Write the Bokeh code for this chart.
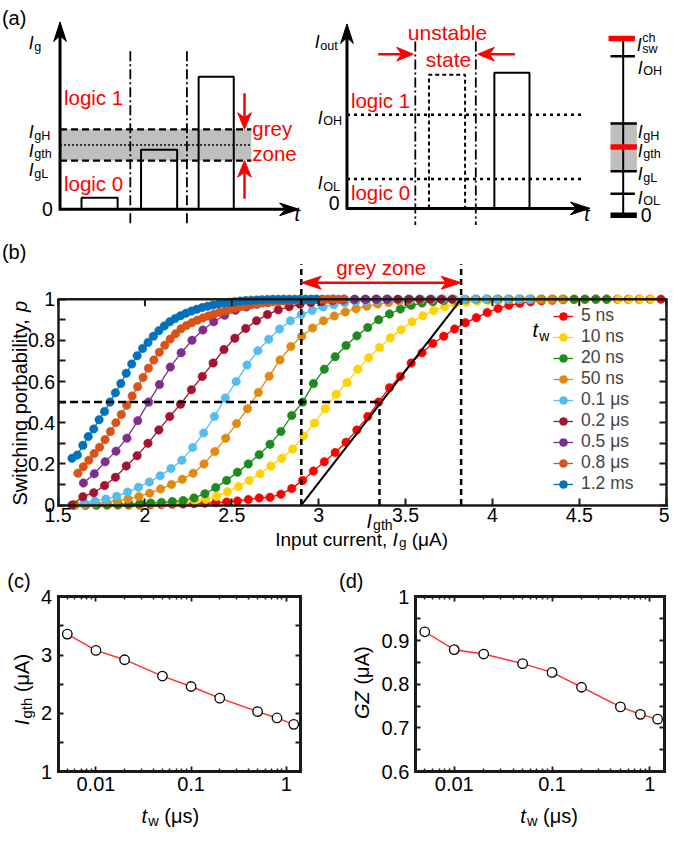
import math
import numpy as np
from bokeh.plotting import figure
from bokeh.models import Range1d, LinearAxis, LogAxis, FixedTicker, Label, Legend, LegendItem
from bokeh.layouts import column, row
from bokeh.embed import file_html
from bokeh.resources import INLINE
from bokeh.core.properties import value

# ---------------------------------------------------------------- data
# panel (b): switching probability p versus input current Ig (uA)
TW_LABELS = ["5 ns", "10 ns", "20 ns", "50 ns", "0.1 μs", "0.2 μs", "0.5 μs", "0.8 μs", "1.2 ms"]
COLORS = ["#FF0000", "#FFD200", "#1D8A1D", "#E08A12", "#55BDEE", "#A2142F", "#7E2F8E", "#D95319", "#0072BD"]
IG_START = [1.595, 1.60, 1.595, 1.59, 1.65, 1.58, 1.646, 1.614, 1.58]
IG_STEP = [0.0625, 0.0625, 0.0625, 0.0625, 0.0625, 0.0625, 0.0625, 0.03125, 0.03125]

p_5ns = [0, 0, 0, 0, 0, 0, 0, 0.002, 0.003, 0.004,
         0.005, 0.007, 0.009, 0.012, 0.015, 0.02, 0.027, 0.035, 0.038, 0.053,
         0.08, 0.12, 0.165, 0.21, 0.255, 0.305, 0.365, 0.43, 0.5, 0.57,
         0.625, 0.69, 0.74, 0.785, 0.82, 0.855, 0.885, 0.91, 0.935, 0.955,
         0.97, 0.98, 0.987, 0.992, 0.995, 0.997, 0.998, 0.999, 1, 1,
         1, 1, 1, 1, 1]
p_10ns = [0, 0, 0, 0.001, 0.002, 0.003, 0.004, 0.006, 0.008, 0.011,
          0.015, 0.02, 0.028, 0.042, 0.065, 0.09, 0.12, 0.152, 0.19, 0.228,
          0.272, 0.335, 0.398, 0.468, 0.538, 0.595, 0.66, 0.715, 0.765, 0.812,
          0.852, 0.89, 0.92, 0.945, 0.963, 0.976, 0.985, 0.99, 0.994, 0.997,
          0.998, 1, 1, 1, 1, 1, 1, 1, 1, 1,
          1, 1, 1, 1]
p_20ns = [0, 0, 0, 0.002, 0.003, 0.005, 0.007, 0.01, 0.013, 0.017,
          0.022, 0.035, 0.055, 0.085, 0.12, 0.16, 0.2, 0.245, 0.295, 0.357,
          0.435, 0.5, 0.59, 0.66, 0.72, 0.775, 0.822, 0.862, 0.9, 0.928,
          0.952, 0.97, 0.981, 0.988, 0.993, 0.996, 0.998, 1, 1, 1,
          1, 1, 1, 1, 1, 1, 1, 1, 1, 1]
p_50ns = [0, 0.003, 0.008, 0.014, 0.021, 0.03, 0.042, 0.058, 0.078, 0.1,
          0.125, 0.155, 0.2, 0.26, 0.325, 0.396, 0.468, 0.547, 0.626, 0.705,
          0.77, 0.82, 0.86, 0.895, 0.918, 0.938, 0.954, 0.966, 0.976, 0.984,
          0.99, 0.994, 0.997, 0.998, 1, 1, 1, 1, 1, 1,
          1, 1, 1, 1, 1, 1]
p_100ns = [0.012, 0.02, 0.03, 0.043, 0.063, 0.087, 0.112, 0.142, 0.178, 0.218,
           0.28, 0.35, 0.43, 0.52, 0.6, 0.68, 0.75, 0.805, 0.855, 0.895,
           0.925, 0.945, 0.962, 0.973, 0.982, 0.988, 0.992, 0.995, 0.997, 0.998,
           1, 1, 1, 1, 1, 1, 1, 1, 1, 1,
           1, 1]
p_200ns = [0, 0.041, 0.06, 0.095, 0.135, 0.19, 0.24, 0.3, 0.365, 0.43,
           0.49, 0.56, 0.625, 0.69, 0.755, 0.81, 0.858, 0.895, 0.925, 0.948,
           0.963, 0.975, 0.983, 0.989, 0.993, 0.996, 0.998, 0.999, 1, 1,
           1, 1, 1, 1, 1, 1]
p_500ns = [0.107, 0.152, 0.21, 0.262, 0.325, 0.41, 0.5, 0.585, 0.67, 0.74,
           0.8, 0.85, 0.89, 0.922, 0.946, 0.962, 0.975, 0.984, 0.99, 0.994,
           0.996, 0.998, 0.999, 1, 1, 1, 1, 1, 1]
p_800ns = [0.155, 0.186, 0.218, 0.25, 0.281, 0.318, 0.357, 0.40, 0.44, 0.485,
           0.53, 0.575, 0.62, 0.665, 0.705, 0.742, 0.776, 0.806, 0.832, 0.856,
           0.872, 0.886, 0.898, 0.909, 0.918, 0.927, 0.935, 0.943, 0.95, 0.957,
           0.963, 0.968, 0.973, 0.977, 0.981, 0.984, 0.987, 0.989, 0.991, 0.993,
           0.995, 0.996, 0.997, 0.998, 0.999, 0.999, 1, 1, 1, 1]
p_1200us = [0.227, 0.243, 0.29, 0.333, 0.37, 0.415, 0.455, 0.5, 0.545, 0.59,
            0.64, 0.685, 0.725, 0.76, 0.79, 0.82, 0.847, 0.87, 0.89, 0.906,
            0.92, 0.932, 0.942, 0.951, 0.959, 0.966, 0.972, 0.977, 0.981, 0.985,
            0.988, 0.991, 0.993, 0.995, 0.996, 0.997, 0.998, 0.999, 0.999, 1,
            1, 1, 1, 1, 1, 1]
P_SERIES = [p_5ns, p_10ns, p_20ns, p_50ns, p_100ns, p_200ns, p_500ns, p_800ns, p_1200us]

IG_L, IG_TH, IG_H = 2.9, 3.35, 3.82   # grey-zone limits and threshold (5 ns curve)

# panels (c) and (d)
tw_us = [0.005, 0.01, 0.02, 0.05, 0.1, 0.2, 0.5, 0.8, 1.2]
igth_uA = [3.36, 3.08, 2.92, 2.64, 2.46, 2.26, 2.03, 1.92, 1.81]
gz_uA = [0.92, 0.879, 0.869, 0.847, 0.827, 0.793, 0.748, 0.731, 0.72]

# tick values / labels
B_XTICKS = [1.5, 2, 2.5, 3, 3.5, 4, 4.5, 5]
B_XLABELS = ["1.5", "2", "2.5", "3", "3.5", "4", "4.5", "5"]
B_YTICKS = [0, 0.1, 0.2, 0.3, 0.4, 0.5, 0.6, 0.7, 0.8, 0.9, 1]
B_YLABELS = ["0", "", "0.2", "", "0.4", "", "0.6", "", "0.8", "", "1"]
C_YTICKS = [1, 1.5, 2, 2.5, 3, 3.5, 4]
C_YLABELS = ["1", "", "2", "", "3", "", "4"]
D_YTICKS = [0.6, 0.65, 0.7, 0.75, 0.8, 0.85, 0.9, 0.95, 1]
D_YLABELS = ["0.6", "", "0.7", "", "0.8", "", "0.9", "", "1"]
LOG_MAJOR = [0.01, 0.1, 1]
LOG_LABELS = ["0.01", "0.1", "1"]
LOG_MINOR = [0.005, 0.006, 0.007, 0.008, 0.009, 0.02, 0.03, 0.04, 0.05, 0.06, 0.07, 0.08, 0.09,
             0.2, 0.3, 0.4, 0.5, 0.6, 0.7, 0.8, 0.9]

# ---------------------------------------------------------------- helpers
FONT = "Liberation Sans"
RED = "#FF0000"
INK = "#1a1a1a"
SC = 0.976


def S(v):
    return v * SC


CW = {' ': .278, '(': .333, ')': .333, ',': .278, '.': .278, 'A': .667, 'G': .778, 'Z': .611,
      'H': .722, 'I': .278, 'L': .556, 'O': .778, 'S': .667, 'a': .556, 'b': .556, 'c': .5,
      'e': .556, 'g': .556, 'h': .556, 'i': .222, 'l': .222, 'n': .556, 'o': .556, 'p': .556,
      'r': .333, 's': .5, 't': .278, 'u': .556, 'w': .722, 'y': .5, 'μ': .576}


def tw(text, size):
    return sum(CW.get(c, .556) for c in text) * size


def no_align(p):
    try:
        p.frame_align = False
    except Exception:
        pass


def flabel(fig, x, y, pieces, angle=0.0, align="left"):
    """pieces: (text, size, style, shift_down); screen px from the figure's bottom-left"""
    adv = [tw(t, s) + (0.06 * s if st == "italic" else 0) for t, s, st, sh in pieces]
    pos = -sum(adv) / 2 if align == "center" else 0.0
    ca, sa = math.cos(angle), math.sin(angle)
    for (t, s, st, sh), a in zip(pieces, adv):
        lead = len(t) - len(t.lstrip(" "))
        p0 = pos + tw(" " * lead, s)
        fig.add_layout(Label(x=x + p0 * ca + sh * sa, y=y + p0 * sa - sh * ca,
                             x_units="screen", y_units="screen", text=t.strip(" "), angle=angle,
                             text_font=FONT, text_font_size=f"{s:.1f}px", text_font_style=st,
                             text_color="black", text_align="left", text_baseline="alphabetic"))
        pos += a


def arrow(fig, x0, y0, x1, y1, kx=1.0, ky=1.0, color="black", width=2.0, L=18, W=12, N=5):
    X0, Y0, X1, Y1 = x0 * kx, y0 * ky, x1 * kx, y1 * ky
    d = math.hypot(X1 - X0, Y1 - Y0)
    ux, uy = (X1 - X0) / d, (Y1 - Y0) / d
    px, py = -uy, ux
    bx, by = X1 - ux * L, Y1 - uy * L
    nx, ny = X1 - ux * (L - N), Y1 - uy * (L - N)
    pts = [(X1, Y1), (bx + px * W / 2, by + py * W / 2), (nx, ny), (bx - px * W / 2, by - py * W / 2)]
    fig.line([x0, nx / kx], [y0, ny / ky], line_color=color, line_width=width)
    fig.patch([q[0] / kx for q in pts], [q[1] / ky for q in pts], fill_color=color,
              line_color=color, line_width=1)


def style_axis(ax, ticks, labels=None, minor=None, show=True, fs="20px", standoff=5,
               tick_in=5, lw=3.0, tick_w=1.8):
    ax.ticker = FixedTicker(ticks=ticks, minor_ticks=minor or [])
    if labels is not None:
        ax.major_label_overrides = dict(zip(ticks, labels))
    else:
        ax.major_label_overrides = {t: "" for t in ticks}
    ax.axis_line_color = INK
    ax.axis_line_width = lw
    ax.axis_line_cap = "square"
    ax.major_tick_in, ax.major_tick_out = tick_in, 0
    ax.minor_tick_in, ax.minor_tick_out = 3, 0
    ax.major_tick_line_width = tick_w
    ax.minor_tick_line_width = 1.5
    ax.major_tick_line_color = INK
    ax.minor_tick_line_color = INK if minor else None
    ax.major_label_text_font = FONT
    ax.major_label_text_font_size = fs
    ax.major_label_standoff = standoff
    ax.major_label_text_color = "black" if show else None


# ---------------------------------------------------------------- panel (a): schematic
A_H = 225
pa = figure(width=669, height=A_H, x_range=Range1d(0, 669 / SC), y_range=Range1d(A_H / SC, 0),
            x_axis_type=None, y_axis_type=None, output_backend="svg", toolbar_location=None,
            min_border=0)
pa.outline_line_color = None
no_align(pa)


def atext(x, y, t, size, color="black", style="normal", align="left", baseline="alphabetic"):
    pa.text(x=[x], y=[y], text=[t], text_font=value(FONT), text_font_size=value(f"{S(size):.1f}px"),
            text_color=color, text_font_style=style, text_align=align, text_baseline=baseline)


def alabel(x, y, sub, size=18, sup=None):
    atext(x, y, "I", size, style="italic")
    sx = x + 0.31 * size
    atext(sx, y + 0.2 * size, sub, size * 0.72)
    if sup:
        atext(sx, y - 0.42 * size, sup, size * 0.72)


def seg(xs, ys, color="black", width=2.0, dash="solid"):
    pa.line(xs, ys, line_color=color, line_width=width, line_dash=dash)


# left: input current
pa.quad(left=61, right=257, top=132, bottom=164, fill_color="#BFBFBF", line_color=None)
seg([61, 257], [132, 132], width=2.2, dash="7 4")
seg([61, 257], [164, 164], width=2.2, dash="7 4")
seg([61, 257], [148, 148], width=1.4, dash="2 2")
for xv in (133, 191):
    seg([xv, xv], [52, 231], width=1.8, dash="10 3 2 3")
seg([83, 83, 120, 120], [214, 202, 202, 214])
seg([144, 144, 181, 181], [214, 153, 153, 214])
seg([203, 203, 239, 239], [214, 78, 78, 214])
arrow(pa, 61, 215, 61, 22, width=3, L=20, W=13, N=6)
arrow(pa, 60, 214, 306, 214, width=3, L=20, W=13, N=6)
arrow(pa, 250, 95, 250, 132, color=RED, width=2.5, L=17, W=14, N=5)
arrow(pa, 250, 203, 250, 164, color=RED, width=2.5, L=17, W=14, N=5)
atext(1.5, 18, "(a)", 20.5)
alabel(29, 44, "g")
alabel(29, 135, "gH")
alabel(29, 154, "gth")
alabel(29, 174, "gL")
atext(48, 214, "0", 20, align="center", baseline="middle")
atext(304, 219, "t", 20, style="italic", align="center", baseline="middle")
atext(65, 99, "logic 1", 21, color=RED, baseline="middle")
atext(65, 187, "logic 0", 21, color=RED, baseline="middle")
atext(258, 131, "grey", 21, color=RED, baseline="middle")
atext(258, 157, "zone", 21, color=RED, baseline="middle")

# middle: output current
seg([355, 598], [117, 117], width=2.5, dash="3 4")
seg([355, 598], [183, 183], width=2.5, dash="3 4")
for xv in (425, 487):
    seg([xv, xv], [42, 231], width=1.8, dash="10 3 2 3")
seg([439, 439, 476, 476], [213, 76, 76, 213], width=2, dash="4 3")
seg([506, 506, 542, 542], [213, 74, 74, 213])
arrow(pa, 355, 214, 355, 24, width=3, L=20, W=13, N=6)
arrow(pa, 354, 213, 604, 213, width=3, L=20, W=13, N=6)
arrow(pa, 387, 55, 423, 55, color=RED, width=2.5, L=17, W=14, N=5)
arrow(pa, 527, 55, 489, 55, color=RED, width=2.5, L=17, W=14, N=5)
alabel(322, 43, "out")
alabel(325, 120, "OH")
alabel(325, 187, "OL")
atext(601, 219, "t", 20, style="italic", align="center", baseline="middle")
atext(342, 207, "0", 20, align="center", baseline="middle")
atext(458, 33, "unstable", 21.5, color=RED, align="center", baseline="middle")
atext(459, 60, "state", 21.5, color=RED, align="center", baseline="middle")
atext(359, 102, "logic 1", 21, color=RED, baseline="middle")
atext(359, 197, "logic 0", 21, color=RED, baseline="middle")

# right: level scale
pa.quad(left=625, right=652, top=125, bottom=175, fill_color="#BFBFBF", line_color=None)
seg([638, 638], [40, 221], width=2)
seg([623, 650], [39, 39], color=RED, width=5.5)
seg([625, 650], [57, 57], width=2.5)
seg([625, 652], [126, 126], width=2.5)
seg([625, 652], [150, 150], color=RED, width=5.5)
seg([625, 652], [175, 175], width=2.5)
seg([625, 650], [198, 198], width=2.5)
seg([625, 652], [220, 220], width=5.5)
alabel(652, 46, "sw", sup="ch")
alabel(653, 69, "OH")
alabel(653, 135, "gH")
alabel(653, 154, "gth")
alabel(653, 178, "gL")
alabel(653, 202, "OL")
atext(656, 220, "0", 20, baseline="middle")

# ---------------------------------------------------------------- panel (b)
B_H, B_TOP = 327, A_H / SC          # figure height (px) and top edge in reference px
B_BOT = B_TOP + B_H / SC
KX, KY = 178 * SC, 211 * SC          # px per data unit
bx0 = 1.5 - 59 / 178
bx1 = 1.5 + (669 / SC - 59) / 178
by1 = (517 - B_TOP) / 211
by0 = (517 - B_BOT) / 211
pb = figure(width=669, height=B_H, x_range=Range1d(bx0, bx1), y_range=Range1d(by0, by1),
            output_backend="svg", toolbar_location=None, min_border=0)
pb.outline_line_color = None
pb.grid.visible = False
no_align(pb)

xa = pb.xaxis[0]
style_axis(xa, B_XTICKS, B_XLABELS, fs="19.5px", standoff=3, tick_in=7, lw=2.5, tick_w=2)
xa.fixed_location = 0
xa.bounds = (1.5, 5)
ya = pb.yaxis[0]
style_axis(ya, B_YTICKS, B_YLABELS, fs="19.5px", standoff=3, tick_in=7, lw=2.5, tick_w=2)
ya.fixed_location = 1.5
ya.bounds = (0, 1)
ra = LinearAxis()
style_axis(ra, B_YTICKS, None, show=False, tick_in=7, lw=2.5, tick_w=2)
ra.fixed_location = 5
ra.bounds = (0, 1)
pb.add_layout(ra, "right")

items = []
for lab, col, x0, st, ps in zip(TW_LABELS, COLORS, IG_START, IG_STEP, P_SERIES):
    xs = np.round(x0 + st * np.arange(len(ps)), 4)
    lr = pb.line(xs, ps, line_color=col, line_width=1.3)
    sr = pb.scatter(xs, ps, size=8.5, fill_color=col, line_color=col, line_width=0.5)
    items.append(LegendItem(label=lab, renderers=[lr, sr]))

# top frame edge with its inward ticks
pb.line([B_XTICKS[0], B_XTICKS[-1]], [1, 1], line_color=INK, line_width=2.5)
pb.segment(x0=B_XTICKS, y0=[1] * len(B_XTICKS), x1=B_XTICKS, y1=[1 - 7 / KY] * len(B_XTICKS),
           line_color=INK, line_width=2)

# guide lines
pb.line([IG_L, IG_L], [0, 1.17], line_color="black", line_width=2.5, line_dash="6 4")
pb.line([IG_H, IG_H], [0, 1.17], line_color="black", line_width=2.5, line_dash="6 4")
pb.line([1.5, IG_TH], [0.5, 0.5], line_color="black", line_width=2.5, line_dash="8 4")
pb.line([IG_TH, IG_TH], [0, 0.5], line_color="black", line_width=2.5, line_dash="6 4")
pb.line([IG_L, IG_H], [0, 1], line_color="black", line_width=2)

mid = (IG_L + IG_H) / 2
arrow(pb, mid, 1.08, IG_L, 1.08, kx=KX, ky=KY, color=RED, width=2.5, L=20, W=13, N=5)
arrow(pb, mid, 1.08, IG_H, 1.08, kx=KX, ky=KY, color=RED, width=2.5, L=20, W=13, N=5)
pb.text(x=[mid], y=[1.152], text=["grey zone"], text_font=value(FONT),
        text_font_size=value("20.5px"), text_color=RED, text_align="center", text_baseline="middle")


def XB(rx):
    return S(rx)


def YB(ry):
    return B_H - S(ry - B_TOP)


# legend: entries measured ~23 px tall at this font; negative spacing gives the ~20 px pitch
ITEM_H, GAP = 23, -3
leg_h = 9 * ITEM_H + 8 * GAP
leg = Legend(items=items, location=(553, round(YB(330) + ITEM_H / 2 - leg_h)),
             glyph_width=20, glyph_height=20, label_height=20, spacing=GAP, padding=0, margin=0,
             label_standoff=8, border_line_color=None, background_fill_alpha=0,
             label_text_font=FONT, label_text_font_size="17.5px")
pb.add_layout(leg)

flabel(pb, XB(1.5), YB(258), [("(b)", 20, "normal", 0)])
flabel(pb, XB(545), YB(338), [("t", 20, "italic", 0), ("w", 14, "normal", 5.5)])
flabel(pb, XB(375), YB(533), [("I", 19.5, "italic", 0), ("gth", 14, "normal", 4)])
flabel(pb, XB(370), YB(552), [("Input current, ", 19, "normal", 0), ("I", 19, "italic", 0),
                              ("g", 13.5, "normal", 3.5), (" (μA)", 19, "normal", 0)], align="center")
flabel(pb, 19.0, YB(412), [("Switching porbability, ", 20, "normal", 0), ("p", 20, "italic", 0)],
       angle=math.pi / 2, align="center")

# ---------------------------------------------------------------- panels (c), (d)
CD_H = 276
CD_TOP = B_BOT
CD_BOT = CD_TOP + CD_H / SC


def small_panel(width, left_ref, fl, fr, ylo, yhi, yticks, ylabels, ys):
    # frame in reference px: x fl..fr, y 611..790 ; log x 0.004..1.4
    dec = (fr - fl) / math.log10(1.4 / 0.004)
    lx0 = math.log10(0.004) - (fl - left_ref) / dec
    lx1 = math.log10(0.004) + (left_ref + width / SC - fl) / dec
    upx = (yhi - ylo) / (790 - 611)
    y1 = yhi + (611 - CD_TOP) * upx
    y0 = ylo - (CD_BOT - 790) * upx
    p = figure(width=width, height=CD_H, x_axis_type="log", x_range=Range1d(10 ** lx0, 10 ** lx1),
               y_range=Range1d(y0, y1), output_backend="svg", toolbar_location=None, min_border=0)
    p.grid.visible = False
    p.outline_line_color = None
    no_align(p)
    bx = p.xaxis[0]
    style_axis(bx, LOG_MAJOR, LOG_LABELS, LOG_MINOR, standoff=5)
    bx.fixed_location = ylo
    bx.bounds = (0.004, 1.4)
    lyx = p.yaxis[0]
    style_axis(lyx, yticks, ylabels, standoff=6)
    lyx.fixed_location = 0.004
    lyx.bounds = (ylo, yhi)
    top = LogAxis()
    style_axis(top, LOG_MAJOR, None, LOG_MINOR, show=False)
    top.fixed_location = yhi
    top.bounds = (0.004, 1.4)
    p.add_layout(top, "above")
    right = LinearAxis()
    style_axis(right, yticks, None, show=False)
    right.fixed_location = 1.4
    right.bounds = (ylo, yhi)
    p.add_layout(right, "right")
    p.line(tw_us, ys, line_color="#FF2A2A", line_width=1.4)
    p.scatter(tw_us, ys, size=9.5, fill_color="white", line_color="black", line_width=1.3)
    return p


pc = small_panel(337, 0, 59, 307, 1, 4, C_YTICKS, C_YLABELS, igth_uA)
D_LEFT = 337 / SC
pd = small_panel(332, D_LEFT, 425, 680, 0.6, 1, D_YTICKS, D_YLABELS, gz_uA)


def YCD(ry):
    return CD_H - S(ry - CD_TOP)


flabel(pc, S(7), YCD(595), [("(c)", 20, "normal", 0)])
flabel(pd, 1.5, YCD(595), [("(d)", 20, "normal", 0)])
flabel(pc, S(174), YCD(836), [("t", 20, "italic", 0), ("w", 14.5, "normal", 4.5),
                              (" (μs)", 20, "normal", 0)], align="center")
flabel(pd, S(562 - D_LEFT), YCD(836), [("t", 20, "italic", 0), ("w", 14.5, "normal", 4.5),
                                       (" (μs)", 20, "normal", 0)], align="center")
flabel(pc, S(22), YCD(706), [("I", 20, "italic", 0), ("gth", 15, "normal", 4.5),
                             (" (μA)", 20, "normal", 0)], angle=math.pi / 2, align="center")
flabel(pd, S(370 - D_LEFT), YCD(699), [("GZ", 20, "italic", 0), (" (μA)", 20, "normal", 0)],
       angle=math.pi / 2, align="center")

layout = column(pa, pb, row(pc, pd, spacing=0), spacing=0)
open("out.html", "w").write(file_html(layout, INLINE))
